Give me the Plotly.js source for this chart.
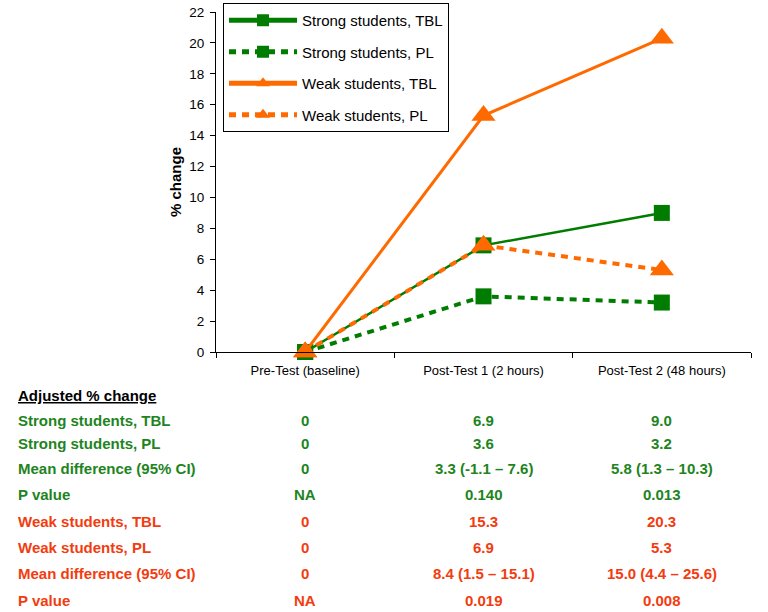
<!DOCTYPE html>
<html>
<head>
<meta charset="utf-8">
<script src="https://cdn.plot.ly/plotly-3.0.1.min.js"></script>
<style>html,body{margin:0;padding:0;background:#fff;}#chart{width:768px;height:612px;}</style>
</head>
<body>
<div id="chart"></div>
<script>
// ---- data ----
const categories = ["Pre-Test (baseline)", "Post-Test 1 (2 hours)", "Post-Test 2 (48 hours)"];
const strongTBL = [0, 6.9, 9.0];
const strongPL  = [0, 3.6, 3.2];
const weakTBL   = [0, 15.3, 20.3];
const weakPL    = [0, 6.9, 5.3];
const yTicks = [0, 2, 4, 6, 8, 10, 12, 14, 16, 18, 20, 22];

const tableHeader = "Adjusted % change";
const tableLabels = ["Strong students, TBL", "Strong students, PL", "Mean difference (95% CI)", "P value",
                     "Weak students, TBL", "Weak students, PL", "Mean difference (95% CI)", "P value"];
const tableCol1 = ["0", "0", "0", "NA", "0", "0", "0", "NA"];
const tableCol2 = ["6.9", "3.6", "3.3 (-1.1 \u2013 7.6)", "0.140", "15.3", "6.9", "8.4 (1.5 \u2013 15.1)", "0.019"];
const tableCol3 = ["9.0", "3.2", "5.8 (1.3 \u2013 10.3)", "0.013", "20.3", "5.3", "15.0 (4.4 \u2013 25.6)", "0.008"];
const tableGroup = ["strong", "strong", "strong", "strong", "weak", "weak", "weak", "weak"];

// ---- styles ----
const GREEN = "#007d00";
const ORANGE = "#ff6a00";
const TXT_GREEN = "#1e841e";
const TXT_RED = "#f23c10";
const FONT = "Liberation Sans, Arial, sans-serif";

const paperTop = 3, plotTop = 12, plotBottom = 352;
const areaH = plotBottom - paperTop;
const rowY = [420, 444, 468, 494, 521, 547, 573, 600];
const headerY = 395;
const leftX = 16, plotLeft = 216, plotW = 535;
function py(pix) { return (plotBottom - pix) / areaH; }

const traces = [
  {name: "Strong students, TBL", x: categories, y: strongTBL, mode: "lines+markers",
   line: {color: GREEN, width: 2.5}, marker: {symbol: "square", size: 16, color: GREEN}, legendgroup: "a"},
  {name: "Strong students, PL", x: categories, y: strongPL, mode: "lines+markers",
   line: {color: GREEN, width: 4, dash: "7px,6px"}, marker: {symbol: "square", size: 16, color: GREEN}, legendgroup: "b"},
  {name: "Weak students, TBL", x: categories, y: weakTBL, mode: "lines+markers",
   line: {color: ORANGE, width: 3}, marker: {symbol: "triangle-up", size: 21, color: ORANGE}, legendgroup: "c"},
  {name: "Weak students, PL", x: categories, y: weakPL, mode: "lines+markers",
   line: {color: ORANGE, width: 4, dash: "7px,6px"}, marker: {symbol: "triangle-up", size: 21, color: ORANGE}, legendgroup: "d"}
].map(t => Object.assign(t, {cliponaxis: false}));

const annotations = [];
annotations.push({text: "<b><u>" + tableHeader + "</u></b>", xref: "paper", yref: "paper",
  x: (leftX - plotLeft) / plotW, y: py(headerY), xanchor: "left", yanchor: "middle", showarrow: false,
  font: {family: FONT, size: 15, color: "#000"}});
tableLabels.forEach((lab, i) => {
  const col = tableGroup[i] === "strong" ? TXT_GREEN : TXT_RED;
  const f = {family: FONT, size: 15, color: col};
  annotations.push({text: "<b>" + lab + "</b>", xref: "paper", yref: "paper", x: (leftX - plotLeft) / plotW, y: py(rowY[i]),
    xanchor: "left", yanchor: "middle", showarrow: false, font: f});
  [tableCol1, tableCol2, tableCol3].forEach((colArr, j) => {
    annotations.push({text: "<b>" + colArr[i] + "</b>", xref: "x", yref: "paper", x: categories[j], y: py(rowY[i]),
      xanchor: "center", yanchor: "middle", showarrow: false, font: f});
  });
});

const layout = {
  width: 768, height: 612,
  margin: {l: plotLeft, r: 768 - plotLeft - plotW, t: paperTop, b: 612 - plotBottom},
  paper_bgcolor: "#fff", plot_bgcolor: "#fff",
  font: {family: FONT, color: "#000"},
  showlegend: true,
  legend: {x: (223 - plotLeft) / plotW, y: 1, xanchor: "left", yanchor: "top",
    bordercolor: "#000", borderwidth: 1, bgcolor: "#fff",
    font: {family: FONT, size: 15, color: "#000"},
    traceorder: "grouped", tracegroupgap: 9, itemwidth: 68, itemsizing: "constant"},
  xaxis: {type: "category", range: [-0.5, 2.5], tickson: "boundaries", ticks: "outside", ticklen: 5,
    tickcolor: "#000", showline: true, linecolor: "#000", linewidth: 1, showgrid: false, zeroline: false,
    ticklabelstandoff: 6,
    tickfont: {family: FONT, size: 13, color: "#000"}, fixedrange: true},
  yaxis: {range: [0, 22], domain: [0, (plotBottom - plotTop) / areaH], tickvals: yTicks, ticks: "outside", ticklen: 5, tickcolor: "#000",
    showline: true, linecolor: "#000", linewidth: 1, showgrid: false, zeroline: false,
    ticklabelstandoff: 3,
    tickfont: {family: FONT, size: 13.5, color: "#000"},
    title: {text: "<b>% change</b>", font: {family: FONT, size: 15, color: "#000"}, standoff: 4}},
  annotations: annotations
};

Plotly.newPlot("chart", traces, layout, {displayModeBar: false, staticPlot: true});
</script>
</body>
</html>
